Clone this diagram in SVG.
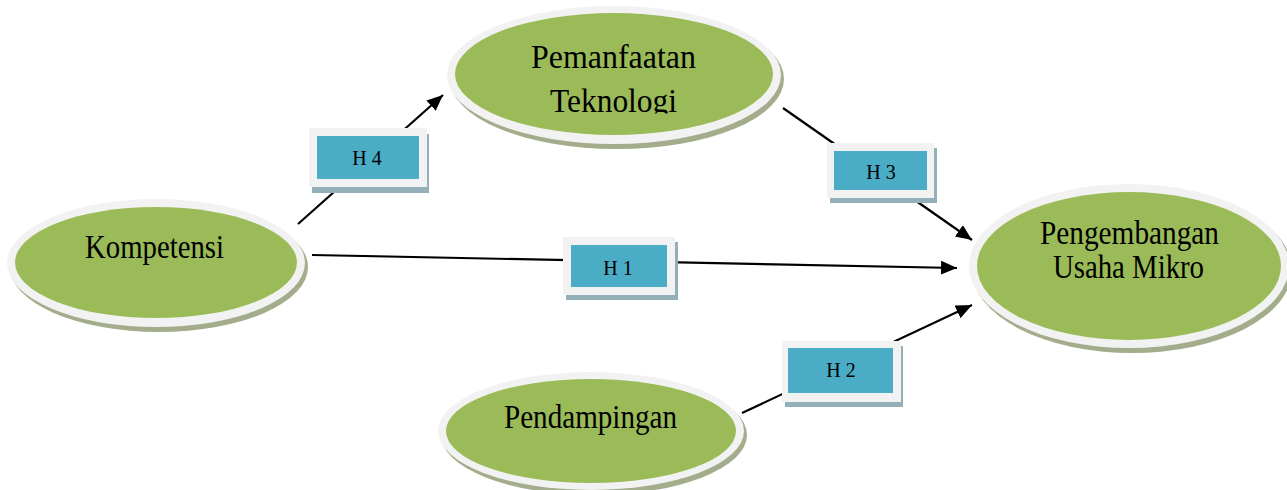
<svg xmlns="http://www.w3.org/2000/svg" width="1287" height="490" viewBox="0 0 1287 490">
<style>
.shadow{fill:#a3ad8b}
.ring{fill:#f2f2f2}
.green{fill:#9bbb59}
.t{font-family:"Liberation Serif","Times New Roman",serif;font-size:33px;fill:#000}
.lt{font-family:"Liberation Serif","Times New Roman",serif;font-size:20px;fill:#000;text-anchor:middle}
.bs{fill:#93b0b9}
.bo{fill:#f2f2f2}
.bb{fill:#4bacc6}
.conn{stroke:#000;stroke-width:2.2;fill:none;marker-end:url(#arr)}
</style>
<defs>
<marker id="arr" markerUnits="userSpaceOnUse" markerWidth="17" markerHeight="15" refX="16" refY="7" orient="auto">
<path d="M0,0 L16,7 L0,14 z" fill="#000"/>
</marker>
<clipPath id="clipT"><rect x="440" y="0" width="360" height="113.5"/></clipPath>
</defs>
<rect width="1287" height="490" fill="#fff"/>
<g id="connectors">
<line class="conn" x1="298" y1="224" x2="443" y2="95"/>
<line class="conn" x1="783" y1="108" x2="972" y2="240"/>
<line class="conn" x1="312" y1="255" x2="957" y2="268"/>
<line class="conn" x1="742" y1="413" x2="972" y2="305"/>
</g>
<g id="pemanfaatan">
<ellipse class="shadow" cx="617" cy="79" rx="167" ry="70"/>
<ellipse class="ring" cx="614" cy="75" rx="167" ry="69"/>
<ellipse class="green" cx="614" cy="74" rx="159" ry="61"/>
<g clip-path="url(#clipT)">
<text class="t" x="531" y="68" textLength="165" lengthAdjust="spacingAndGlyphs">Pemanfaatan</text>
<text class="t" x="550" y="112" textLength="127" lengthAdjust="spacingAndGlyphs">Teknologi</text>
</g>
</g>
<g id="kompetensi">
<ellipse class="shadow" cx="159" cy="267" rx="149" ry="65"/>
<ellipse class="ring" cx="156" cy="263" rx="149" ry="64"/>
<ellipse class="green" cx="156" cy="262.5" rx="141" ry="55.5"/>
<text class="t" x="85" y="258" textLength="139" lengthAdjust="spacingAndGlyphs">Kompetensi</text>
</g>
<g id="pengembangan">
<ellipse class="shadow" cx="1132" cy="270" rx="160" ry="83"/>
<ellipse class="ring" cx="1129" cy="266" rx="160" ry="82"/>
<ellipse class="green" cx="1129" cy="266" rx="152" ry="74"/>
<text class="t" x="1040" y="244" textLength="179" lengthAdjust="spacingAndGlyphs">Pengembangan</text>
<text class="t" x="1053" y="278" textLength="151" lengthAdjust="spacingAndGlyphs">Usaha Mikro</text>
</g>
<g id="pendampingan">
<ellipse class="shadow" cx="594" cy="435" rx="153" ry="60"/>
<ellipse class="ring" cx="591" cy="431" rx="153" ry="59"/>
<ellipse class="green" cx="591" cy="431" rx="145" ry="52"/>
<text class="t" x="504" y="428" textLength="173" lengthAdjust="spacingAndGlyphs">Pendampingan</text>
</g>
<g id="label-h4">
<rect class="bs" x="312" y="134" width="117" height="59"/>
<rect class="bo" x="309" y="128" width="118" height="59"/>
<rect class="bb" x="317" y="136" width="102" height="43"/>
<text class="lt" x="367" y="165">H 4</text>
</g>
<g id="label-h3">
<rect class="bs" x="830" y="148" width="107" height="55"/>
<rect class="bo" x="827" y="143" width="107" height="55"/>
<rect class="bb" x="834" y="151" width="93" height="39"/>
<text class="lt" x="881" y="179">H 3</text>
</g>
<g id="label-h1">
<rect class="bs" x="566" y="242" width="112" height="58"/>
<rect class="bo" x="563" y="237" width="112" height="58"/>
<rect class="bb" x="571" y="245" width="96" height="42"/>
<text class="lt" x="618" y="275">H 1</text>
</g>
<g id="label-h2">
<rect class="bs" x="785" y="346" width="118" height="61"/>
<rect class="bo" x="782" y="341" width="119" height="61"/>
<rect class="bb" x="788" y="348" width="105" height="45"/>
<text class="lt" x="841" y="377">H 2</text>
</g>
</svg>
